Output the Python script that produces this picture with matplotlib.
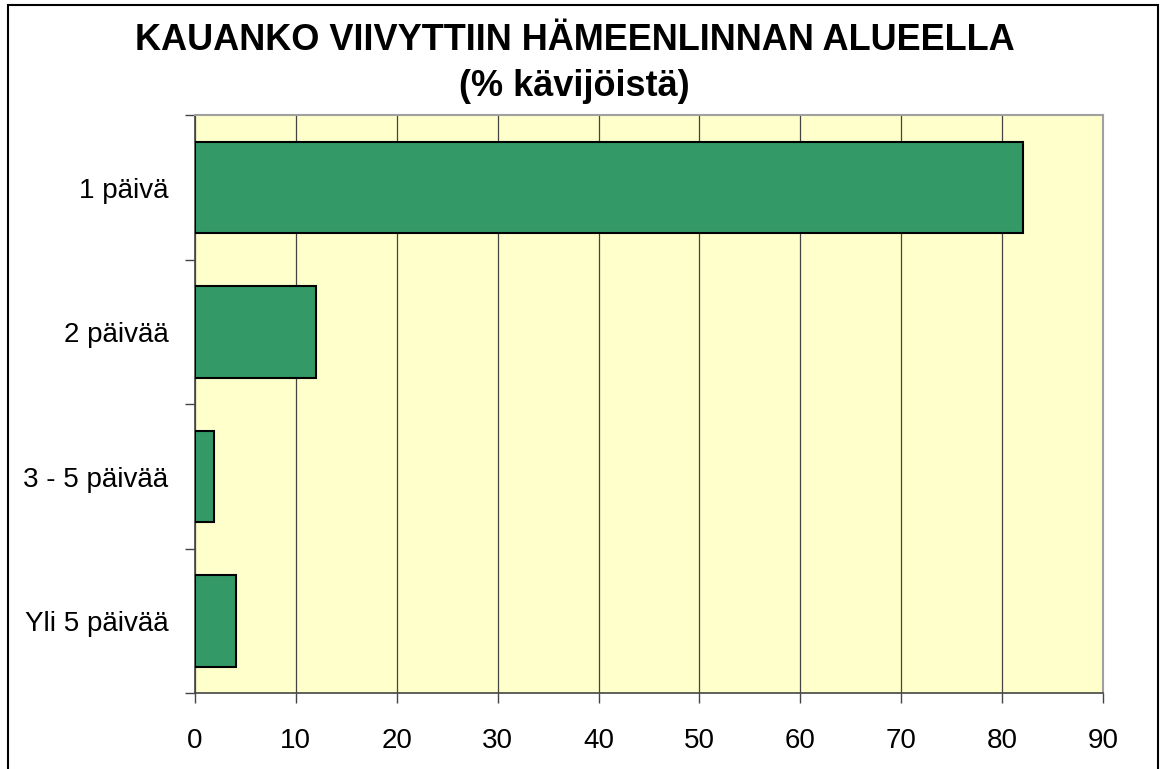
import matplotlib
matplotlib.use("Agg")
import matplotlib.pyplot as plt
from matplotlib.patches import Rectangle

# data
luokat = ["1 päivä", "2 päivää", "3 - 5 päivää", "Yli 5 päivää"]
osuudet = [82.0, 12.0, 1.9, 4.1]
x_ticks = [0, 10, 20, 30, 40, 50, 60, 70, 80, 90]

plt.rcParams["font.family"] = ["Liberation Sans", "DejaVu Sans"]

fig = plt.figure(figsize=(11.61, 7.69), dpi=100)
ax = fig.add_axes([0.1677, 0.0985, 0.7826, 0.7516])
ax.set_facecolor("#FFFFCC")

y = list(range(len(luokat)))
ax.barh(y, osuudet, height=0.63, color="#339966", edgecolor="black",
        linewidth=1.5, zorder=3)

ax.set_xlim(0, 90)
ax.set_ylim(len(luokat) - 0.5, -0.5)
ax.set_xticks(x_ticks)
ax.set_xticklabels([str(t) for t in x_ticks], fontsize=20)
ax.set_yticks(y)
ax.set_yticklabels(luokat, fontsize=20)
ax.tick_params(axis="y", which="major", length=0, pad=19)
ax.set_yticks([i - 0.5 for i in range(len(luokat) + 1)], minor=True)
ax.tick_params(axis="y", which="minor", length=7, width=1, color="#444444")
ax.tick_params(axis="x", length=7, width=1, color="#444444", pad=18)

ax.grid(axis="x", color="#444444", linewidth=0.9, zorder=1)
ax.set_axisbelow(True)
for s in ["top", "right"]:
    ax.spines[s].set_color("#A0A0A0")
    ax.spines[s].set_linewidth(1.5)
for s in ["left", "bottom"]:
    ax.spines[s].set_color("#444444")
    ax.spines[s].set_linewidth(1.2)

fig.text(0.495, 1 - 40 / 769, "KAUANKO VIIVYTTIIN HÄMEENLINNAN ALUEELLA",
         ha="center", va="center", fontsize=26, fontweight="bold")
fig.text(0.495, 1 - 87 / 769, "(% kävijöistä)",
         ha="center", va="center", fontsize=26, fontweight="bold")

# chart frame
fig.patches.append(Rectangle((8 / 1161, -0.05), 1150 / 1161, 1.05 - 5 / 769,
                             transform=fig.transFigure, fill=False,
                             edgecolor="black", linewidth=1.5))

fig.savefig("out.png", dpi=100)
